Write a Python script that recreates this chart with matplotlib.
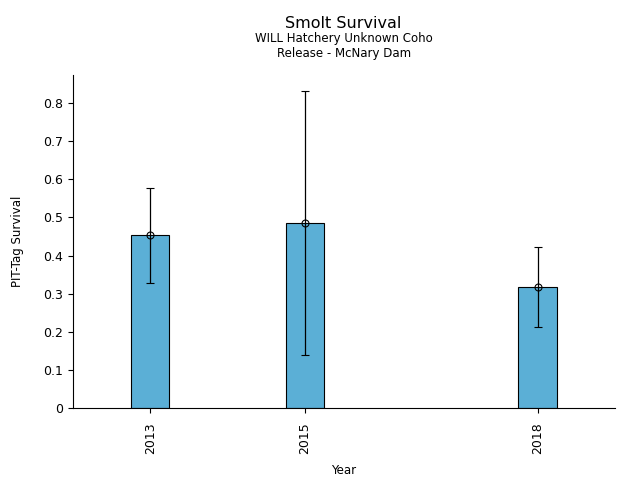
import matplotlib
matplotlib.use("Agg")
import matplotlib.pyplot as plt
from matplotlib.ticker import FuncFormatter

years = [2013, 2015, 2018]
survival = [0.454, 0.486, 0.318]
lower = [0.329, 0.139, 0.213]
upper = [0.577, 0.832, 0.423]

fig = plt.figure(figsize=(6.4, 4.8), dpi=100)
ax = fig.add_axes([0.1135, 0.15, 0.8475, 0.694])

ax.bar(years, survival, width=0.5, color="#5BAFD6", edgecolor="black", linewidth=0.8, zorder=2)
yerr = [[s - l for s, l in zip(survival, lower)], [u - s for s, u in zip(survival, upper)]]
ax.errorbar(years, survival, yerr=yerr, fmt="o", mfc="none", mec="black", ms=5, mew=0.8,
            ecolor="black", elinewidth=0.9, capsize=3, capthick=0.9, zorder=3)

ax.set_xlim(2012, 2019)
ax.set_ylim(0, 0.874)
ax.set_xticks(years)
ax.set_xticklabels([str(y) for y in years], rotation=90, fontsize=9)
ax.tick_params(axis="x", pad=7.1)
ax.set_yticks([0, 0.1, 0.2, 0.3, 0.4, 0.5, 0.6, 0.7, 0.8])
ax.yaxis.set_major_formatter(FuncFormatter(lambda v, p: "0" if v == 0 else f"{v:.1f}"))
ax.tick_params(axis="y", labelsize=9)
ax.spines["top"].set_visible(False)
ax.spines["right"].set_visible(False)

ax.set_xlabel("Year", fontsize=8.5, labelpad=6.5)
ax.set_ylabel("PIT-Tag Survival", fontsize=8.5, labelpad=13.5)

fig.text(0.537, 0.951, "Smolt Survival", ha="center", va="center", fontsize=11.5)
fig.text(0.537, 0.919, "WILL Hatchery Unknown Coho", ha="center", va="center", fontsize=8.5)
fig.text(0.537, 0.888, "Release - McNary Dam", ha="center", va="center", fontsize=8.5)

fig.savefig("out.png", dpi=100)
